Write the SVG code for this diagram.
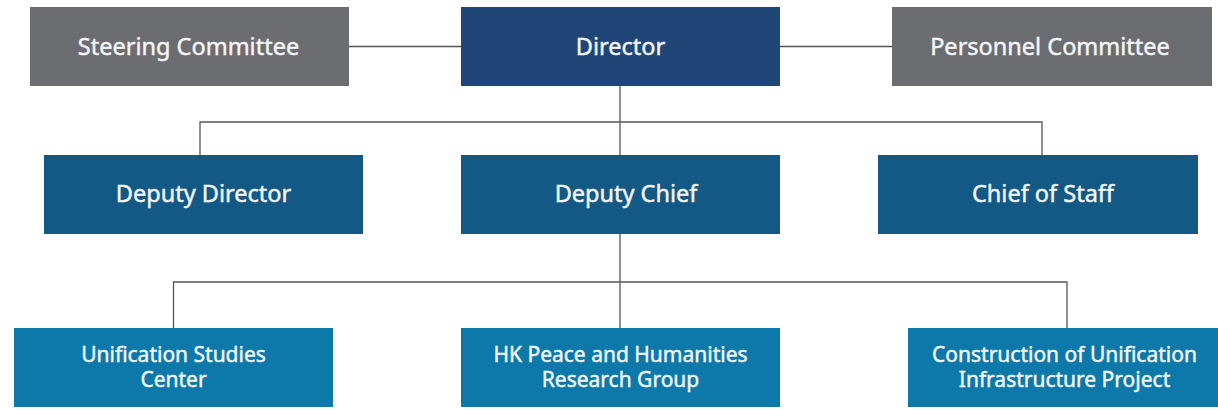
<svg xmlns="http://www.w3.org/2000/svg" width="1218" height="410" viewBox="0 0 1218 410">
<style>
.grey{fill:#6c6d71}
.dir{fill:#204577}
.l2{fill:#135985}
.l3{fill:#0c79aa}
text{font-family:"Noto Sans","Open Sans",sans-serif;fill:#f4f6f8;stroke:#f4f6f8;stroke-width:0.45;text-anchor:middle}
.t1{font-size:23.5px}
.t3{font-size:21px}
.conn{stroke:#555;stroke-width:1.3;fill:none}
</style>
<rect width="1218" height="410" fill="#fff"/>
<g id="connectors">
<path class="conn" d="M349 46.5H461M780 46.5H892"/>
<path class="conn" d="M620 86V155M200 155V122H1042V155"/>
<path class="conn" d="M620 234V328M173.5 328V282H1067V328"/>
</g>
<g id="steering"><rect class="grey" x="30" y="7" width="319" height="79"/><text class="t1" x="188.5" y="55">Steering Committee</text></g>
<g id="director"><rect class="dir" x="461" y="7" width="319" height="79"/><text class="t1" x="620.5" y="55">Director</text></g>
<g id="personnel"><rect class="grey" x="892" y="7" width="320" height="79"/><text class="t1" x="1050" y="55">Personnel Committee</text></g>
<g id="deputy-director"><rect class="l2" x="44" y="155" width="319" height="79"/><text class="t1" x="203.5" y="202">Deputy Director</text></g>
<g id="deputy-chief"><rect class="l2" x="461" y="155" width="319" height="79"/><text class="t1" x="626" y="202">Deputy Chief</text></g>
<g id="chief-of-staff"><rect class="l2" x="878" y="155" width="320" height="79"/><text class="t1" x="1043" y="202">Chief of Staff</text></g>
<g id="unification-studies"><rect class="l3" x="14" y="328" width="319" height="79"/><text class="t3" x="173.5" y="362">Unification Studies</text><text class="t3" x="173.5" y="387">Center</text></g>
<g id="hk-peace"><rect class="l3" x="461" y="328" width="319" height="79"/><text class="t3" x="620.5" y="362">HK Peace and Humanities</text><text class="t3" x="620.5" y="387">Research Group</text></g>
<g id="construction"><rect class="l3" x="908" y="328" width="320" height="79"/><text class="t3" x="1064.5" y="362">Construction of Unification</text><text class="t3" x="1064.5" y="387">Infrastructure Project</text></g>
</svg>
